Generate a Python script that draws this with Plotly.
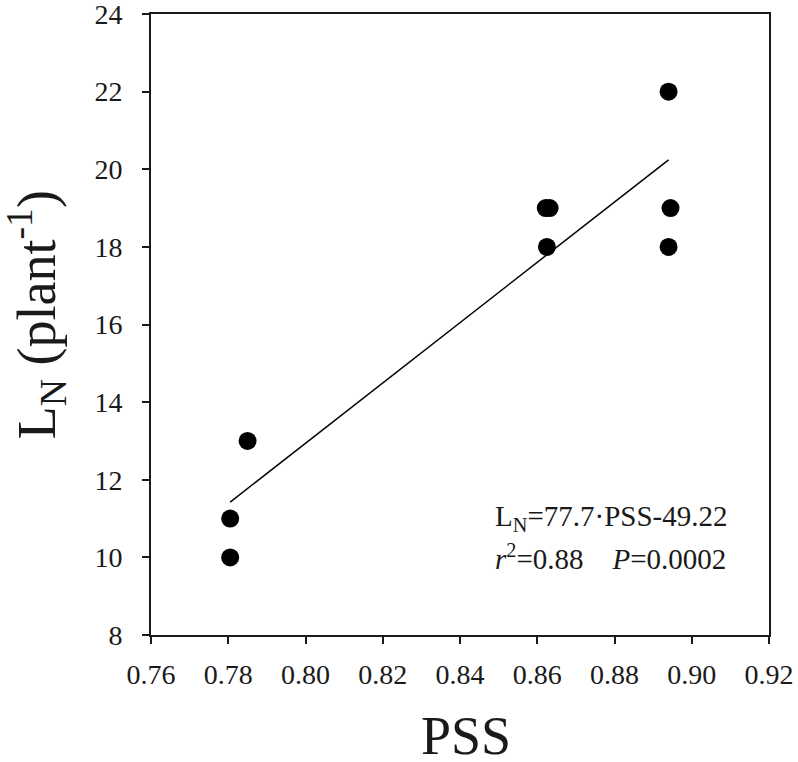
import plotly.graph_objects as go

pss = [0.7805, 0.7805, 0.785, 0.8622, 0.8632, 0.8625, 0.894, 0.8945, 0.894]
ln = [10, 11, 13, 19, 19, 18, 22, 19, 18]

fit_slope = 77.7
fit_intercept = -49.22
fit_x = [0.7805, 0.894]
fit_y = [fit_slope * x + fit_intercept for x in fit_x]

x_ticks = [0.76, 0.78, 0.80, 0.82, 0.84, 0.86, 0.88, 0.90, 0.92]
y_ticks = [8, 10, 12, 14, 16, 18, 20, 22, 24]

x_title = "PSS"
y_title = "L<sub>N</sub> (plant<sup>-1</sup>)"

font_family = "Liberation Serif"

fig = go.Figure()
fig.add_trace(go.Scatter(x=fit_x, y=fit_y, mode="lines",
                         line=dict(color="black", width=1.5), showlegend=False))
fig.add_trace(go.Scatter(x=pss, y=ln, mode="markers",
                         marker=dict(color="black", size=18), showlegend=False))

axis_common = dict(
    showline=True, linecolor="#1a1a1a", linewidth=2, mirror=True,
    ticks="outside", ticklen=7, tickwidth=1.5, tickcolor="#1a1a1a",
    showgrid=False, zeroline=False, automargin=False,
    ticklabeloverflow="allow",
    tickfont=dict(family=font_family, size=28, color="#1a1a1a"),
)

fig.update_layout(
    template="none",
    width=798, height=762,
    margin=dict(l=151, r=29, t=14, b=127, autoexpand=False),
    paper_bgcolor="white", plot_bgcolor="white",
    font=dict(family=font_family, color="#1a1a1a"),
    xaxis=dict(range=[0.76, 0.92], tickvals=x_ticks,
               ticktext=[f"{v:.2f}" for v in x_ticks],
               ticklabelstandoff=6, **axis_common),
    yaxis=dict(range=[8, 24], tickvals=y_ticks,
               ticktext=[str(v) for v in y_ticks],
               ticklabelstandoff=14, **axis_common),
)

# axis titles
fig.add_annotation(x=0.5100, y=-0.1626, xref="paper", yref="paper",
                   xanchor="center", yanchor="middle", showarrow=False,
                   text=x_title,
                   font=dict(family=font_family, size=54, color="#1a1a1a"))
fig.add_annotation(x=-0.186, y=0.515, xref="paper", yref="paper",
                   xanchor="center", yanchor="middle", showarrow=False,
                   textangle=-90, text=y_title,
                   font=dict(family=font_family, size=54, color="#1a1a1a"))

# regression text
fig.add_annotation(x=0.5534, y=0.188, xref="paper", yref="paper",
                   xanchor="left", yanchor="middle", showarrow=False,
                   text="L<sub>N</sub>=77.7·PSS-49.22",
                   font=dict(family=font_family, size=29, color="#1a1a1a"))
fig.add_annotation(x=0.5534, y=0.126, xref="paper", yref="paper",
                   xanchor="left", yanchor="middle", showarrow=False,
                   text="<i>r</i><sup>2</sup>=0.88    <i>P</i>=0.0002",
                   font=dict(family=font_family, size=29, color="#1a1a1a"))

fig.write_html("out.html", config={"displayModeBar": False},
               post_script="document.body.style.margin='0';")
